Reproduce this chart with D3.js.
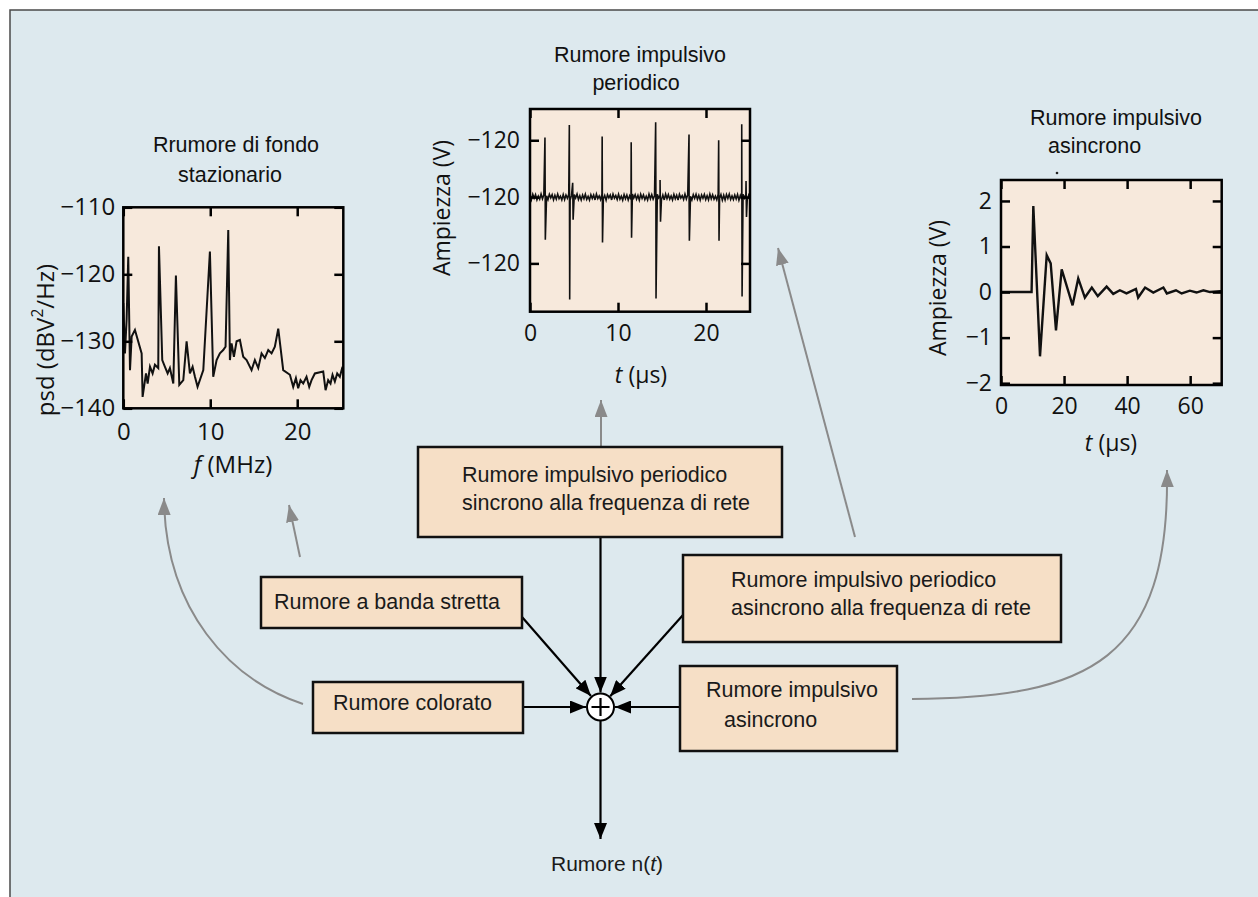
<!DOCTYPE html>
<html>
<head>
<meta charset="utf-8">
<script src="https://cdn.jsdelivr.net/npm/d3@7"></script>
<style>
  html, body { margin: 0; padding: 0; background: #ffffff; }
  svg { display: block; }
</style>
</head>
<body>
<svg id="chart" width="1258" height="897"></svg>
<script>
// ---------- Stationary background noise: power spectral density ----------
const psdFreqMHz = [0,0.19,0.38,0.57,0.77,0.96,1.34,2.11,2.22,2.61,2.80,3.07,3.37,3.64,4.02,4.10,4.48,4.79,5.10,5.36,5.75,6.05,6.44,6.90,7.28,7.66,7.97,8.24,8.54,9.20,9.96,10.34,10.73,11.11,11.49,11.76,12.07,12.26,12.45,12.72,13.03,13.41,13.79,14.18,14.75,15.13,15.52,15.90,16.28,16.67,17.05,17.43,17.82,18.39,19.16,19.54,19.85,20.11,20.38,20.69,21.07,21.38,21.65,22.03,22.99,23.26,23.56,23.83,24.06,24.33,24.60,24.90,25.21];
const psdLevel = [-124.3,-131.8,-126.8,-117.4,-134.3,-129.3,-128.3,-131.8,-138.3,-134.8,-136.3,-133.8,-134.8,-133.5,-134.0,-115.8,-132.8,-133.8,-134.8,-134.0,-136.3,-120.2,-136.5,-135.8,-130.0,-134.8,-133.8,-135.3,-136.8,-134.3,-116.6,-135.3,-132.8,-131.8,-131.3,-130.8,-113.4,-132.8,-130.3,-132.3,-130.0,-129.8,-132.3,-132.8,-134.3,-132.8,-134.0,-131.8,-132.5,-131.3,-131.8,-130.8,-128.1,-134.3,-135.0,-136.8,-135.5,-137.0,-135.8,-136.3,-135.3,-136.8,-135.8,-134.8,-134.5,-137.3,-135.8,-136.3,-135.0,-136.0,-134.8,-135.3,-133.8];
const psdXTicks = [0, 10, 20];
const psdXLabels = ["0", "10", "20"];
const psdYTicks = [-110, -120, -130, -140];
const psdYLabels = ["\u2212110", "\u2212120", "\u2212130", "\u2212140"];

// ---------- Periodic impulsive noise (time domain) ----------
// baseline jitter, sampled evenly across the 0–25 µs window
const periodicNoise = [
  0.02,-0.028,0.03,-0.012,0.026,-0.03,0.01,-0.022,0.032,-0.018,
  0.024,-0.032,0.014,-0.026,0.03,-0.008,0.026,-0.03,0.018,-0.022,
  0.032,-0.016,0.01,-0.03,0.026,-0.026,0.022,-0.012,0.03,-0.032,
  0.018,-0.022,0.026,-0.01,0.032,-0.026,0.014,-0.03,0.022,-0.018,
  0.03,-0.024,0.008,-0.032,0.026,-0.014,0.022,-0.03,0.032,-0.016,
  0.012,-0.026,0.03,-0.02,0.018,-0.032,0.026,-0.008,0.022,-0.03,
  0.032,-0.012,0.016,-0.026,0.03,-0.022,0.01,-0.032,0.026,-0.018,
  0.022,-0.03,0.014,-0.024,0.032,-0.01,0.026,-0.022,0.018,-0.032,
  0.03,-0.014,0.022,-0.026,0.01,-0.03,0.032,-0.018,0.026,-0.022,
  0.014,-0.032,0.03,-0.008,0.018,-0.026,0.022,-0.03,0.032,-0.016,
  0.026,-0.022,0.012,-0.03,0.028,-0.018,0.02,-0.032,0.03,-0.01,
  0.016,-0.026,0.032,-0.02,0.024,-0.028,0.008,-0.03,0.026,-0.014,
  0.03,-0.024,0.018,-0.032,0.022,-0.012,0.028,-0.026,0.014,-0.03,
  0.032,-0.018,0.024,-0.022,0.01,-0.028,0.03,-0.016,0.026,-0.032,
  0.02,-0.03,0.028,-0.014,0.032,-0.024,0.012,-0.026,0.022,-0.02,
  0.028,-0.032,0.016,-0.022,0.03,-0.01,0.024,-0.028,0.018,-0.026
];
const pulseTimeUs = [1.70, 4.47, 8.20, 11.50, 14.28, 18.07, 21.44, 24.06];
const pulseHigh   = [0.63, 0.76, 0.64, 0.58, 0.79, 0.66, 0.60, 0.77];
const pulseLow    = [-0.45, -1.08, -0.48, -0.43, -1.07, -0.46, -0.46, -1.05];
const echoTimeUs  = [4.85, 14.78, 24.55];
const echoHigh    = [0.15, 0.18, 0.17];
const echoLow     = [-0.24, -0.26, -0.21];
const perXTicks = [0, 10, 20];
const perXLabels = ["0", "10", "20"];
const perYTicks = [0.6, 0, -0.7];
const perYLabels = ["\u2212120", "\u2212120", "\u2212120"];

// ---------- Asynchronous impulsive noise (damped burst) ----------
const asyncTimeUs = [0,9.7,10.25,12.37,14.5,15.76,17.44,19.25,22.7,24.5,26.6,28.8,30.7,33.5,35.6,37.7,39.8,42.8,43.5,45.7,48.3,51.5,52.6,55.5,57.3,59.9,62,64.2,66.3,69.5,70];
const asyncAmpV   = [0,0,1.89,-1.41,0.81,0.63,-0.84,0.5,-0.29,0.3,-0.12,0.1,-0.09,0.12,-0.04,0.04,-0.03,0.07,-0.12,0.1,-0.01,0.1,-0.03,0.04,-0.03,0.03,-0.01,0.04,0,0.02,0.02];
const asyncXTicks = [0, 20, 40, 60];
const asyncXLabels = ["0", "20", "40", "60"];
const asyncYTicks = [2, 1, 0, -1, -2];
const asyncYLabels = ["2", "1", "0", "\u22121", "\u22122"];

// ---------- Block diagram labels ----------
const boxSyncLines   = ["Rumore impulsivo periodico", "sincrono alla frequenza di rete"];
const boxNarrowLines = ["Rumore a banda stretta"];
const boxColoredLines = ["Rumore colorato"];
const boxAsyncPerLines = ["Rumore impulsivo periodico", "asincrono alla frequenza di rete"];
const boxAsyncLines  = ["Rumore impulsivo", "asincrono"];

const PANEL_BG = "#dde9ee";
const PLOT_BG = "#f7e9dc";
const BOX_BG = "#f6dfc6";
const ARROW_GRAY = "#8a8a8a";
const AXIS_FONT = "'Open Sans', 'Noto Sans', sans-serif";
const ARIAL = "'Liberation Sans', Arial, sans-serif";

const svg = d3.select("#chart");

// Background panel
svg.append("rect").attr("x", 10).attr("y", 10).attr("width", 1260).attr("height", 900)
  .attr("fill", PANEL_BG).attr("stroke", "#4a4a4a").attr("stroke-width", 1.5);

const defs = svg.append("defs");
function arrowMarker(id, color, len, wid) {
  defs.append("marker")
    .attr("id", id)
    .attr("viewBox", `0 0 ${len} ${wid}`)
    .attr("refX", len).attr("refY", wid / 2)
    .attr("markerWidth", len).attr("markerHeight", wid)
    .attr("markerUnits", "userSpaceOnUse")
    .attr("orient", "auto")
    .append("path")
    .attr("d", `M0,0L${len},${wid / 2}L0,${wid}Z`)
    .attr("fill", color);
}
arrowMarker("headBlack", "#000", 16, 13);
arrowMarker("headGray", ARROW_GRAY, 17, 13);

// ---------- Small plot panels ----------
function plotPanel(o) {
  const g = svg.append("g");
  g.append("rect").attr("x", o.x0).attr("y", o.y0)
    .attr("width", o.x1 - o.x0).attr("height", o.y1 - o.y0).attr("fill", PLOT_BG);

  const x = d3.scaleLinear().domain(o.xDomain).range([o.x0, o.x1]);
  const y = d3.scaleLinear().domain(o.yDomain).range([o.y1, o.y0]);

  const clipId = "clip-" + o.id;
  defs.append("clipPath").attr("id", clipId).append("rect")
    .attr("x", o.x0).attr("y", o.y0).attr("width", o.x1 - o.x0).attr("height", o.y1 - o.y0);

  g.append("path")
    .datum(o.points)
    .attr("clip-path", `url(#${clipId})`)
    .attr("fill", "none")
    .attr("stroke", "#111")
    .attr("stroke-width", o.lineWidth)
    .attr("stroke-linejoin", "miter")
    .attr("d", d3.line().x(d => x(d[0])).y(d => y(d[1])));

  const styleAxis = (sel, fontSize) => {
    sel.select(".domain").remove();
    sel.selectAll(".tick line").attr("stroke", "#000").attr("stroke-width", 2.5);
    sel.selectAll("text").attr("font-family", AXIS_FONT).attr("font-size", fontSize).attr("fill", "#111");
  };
  const T = 9;
  g.append("g").attr("transform", `translate(0,${o.y1})`)
    .call(d3.axisBottom(x).tickValues(o.xTicks).tickFormat((d, i) => o.xLabels[i])
      .tickSizeInner(-T).tickSizeOuter(0).tickPadding(o.xPad))
    .call(s => styleAxis(s, o.tickFont));
  g.append("g").attr("transform", `translate(0,${o.y0})`)
    .call(d3.axisTop(x).tickValues(o.xTicks).tickFormat("").tickSizeInner(-T).tickSizeOuter(0))
    .call(s => styleAxis(s, o.tickFont));
  g.append("g").attr("transform", `translate(${o.x0},0)`)
    .call(d3.axisLeft(y).tickValues(o.yTicks).tickFormat((d, i) => o.yLabels[i])
      .tickSizeInner(-T).tickSizeOuter(0).tickPadding(o.yPad))
    .call(s => styleAxis(s, o.tickFont));
  g.append("g").attr("transform", `translate(${o.x1},0)`)
    .call(d3.axisRight(y).tickValues(o.yTicks).tickFormat("").tickSizeInner(-T).tickSizeOuter(0))
    .call(s => styleAxis(s, o.tickFont));

  g.append("rect").attr("x", o.x0).attr("y", o.y0)
    .attr("width", o.x1 - o.x0).attr("height", o.y1 - o.y0)
    .attr("fill", "none").attr("stroke", "#000").attr("stroke-width", 2.5);

  // titles
  o.title.forEach(t => {
    g.append("text").attr("x", t[1]).attr("y", t[2]).attr("text-anchor", t[3] || "middle")
      .attr("font-family", ARIAL).attr("font-size", 21.5).attr("fill", "#111").text(t[0]);
  });

  // x-axis label: italic variable followed by unit
  const xl = g.append("text").attr("x", o.xLabelPos[0]).attr("y", o.xLabelPos[1])
    .attr("text-anchor", "middle").attr("font-family", AXIS_FONT).attr("font-size", o.labelFont).attr("fill", "#111");
  xl.append("tspan").attr("font-style", "italic").text(o.xVar);
  xl.append("tspan").text(" " + o.xUnit);

  // y-axis label, rotated
  const yl = g.append("text")
    .attr("transform", `translate(${o.yLabelPos[0]},${o.yLabelPos[1]}) rotate(-90)`)
    .attr("text-anchor", "middle").attr("font-family", AXIS_FONT).attr("font-size", o.labelFont).attr("fill", "#111");
  o.yLabelParts.forEach(p => {
    const ts = yl.append("tspan").text(p[0]);
    if (p[1] === "sup") ts.attr("baseline-shift", "super").attr("font-size", o.labelFont * 0.65);
  });
  return g;
}

// Periodic impulsive trace: baseline jitter plus impulses, ordered in time
const periodicPoints = periodicNoise.map((v, i) => [i * 25 / (periodicNoise.length - 1), v]);
pulseTimeUs.forEach((t, i) => {
  periodicPoints.push([t, pulseHigh[i]], [t + 0.04, pulseLow[i]]);
});
echoTimeUs.forEach((t, i) => {
  periodicPoints.push([t, echoHigh[i]], [t + 0.05, echoLow[i]]);
});
periodicPoints.sort((a, b) => a[0] - b[0]);

plotPanel({
  id: "psd",
  x0: 123.3, x1: 343.3, y0: 207.3, y1: 408.3,
  xDomain: [0, 25.3], yDomain: [-140, -110],
  points: psdFreqMHz.map((f, i) => [f, psdLevel[i]]),
  lineWidth: 2,
  xTicks: psdXTicks, xLabels: psdXLabels, yTicks: psdYTicks, yLabels: psdYLabels,
  xPad: 15, yPad: 8, tickFont: 24, labelFont: 24,
  title: [["Rrumore di fondo", 236, 152], ["stazionario", 230, 182]],
  xVar: "f", xUnit: "(MHz)", xLabelPos: [233, 473],
  yLabelPos: [54, 340], yLabelParts: [["psd (dBV"], ["2", "sup"], ["/Hz)"]]
});

plotPanel({
  id: "per",
  x0: 530, x1: 750, y0: 109, y1: 311.7,
  xDomain: [0, 25], yDomain: [-1.21, 0.93],
  points: periodicPoints,
  lineWidth: 1.6,
  xTicks: perXTicks, xLabels: perXLabels, yTicks: perYTicks, yLabels: perYLabels,
  xPad: 13, yPad: 10, tickFont: 23, labelFont: 23,
  title: [["Rumore impulsivo", 640, 62], ["periodico", 636, 90]],
  xVar: "t", xUnit: "(\u00b5s)", xLabelPos: [641, 383],
  yLabelPos: [450, 208], yLabelParts: [["Ampiezza (V)"]]
});

plotPanel({
  id: "async",
  x0: 1001, x1: 1221.7, y0: 180, y1: 385,
  xDomain: [0, 70], yDomain: [-2.04, 2.46],
  points: asyncTimeUs.map((t, i) => [t, asyncAmpV[i]]),
  lineWidth: 2.4,
  xTicks: asyncXTicks, xLabels: asyncXLabels, yTicks: asyncYTicks, yLabels: asyncYLabels,
  xPad: 13, yPad: 9, tickFont: 23, labelFont: 23,
  title: [["Rumore impulsivo", 1030, 125, "start"], ["asincrono", 1048, 153, "start"]],
  xVar: "t", xUnit: "(\u00b5s)", xLabelPos: [1111, 451],
  yLabelPos: [946, 288], yLabelParts: [["Ampiezza (V)"]]
});
svg.append("circle").attr("cx", 1057).attr("cy", 173).attr("r", 1.3).attr("fill", "#222");

// ---------- Gray connectors from sources to their example plots ----------
const grayPaths = [
  "M601,447 L601,400",
  "M855,537 L778,248",
  "M300,557 L289,505",
  "M303,704 C230,680 165,610 164,498",
  "M912,699 C1090,698 1170,660 1167,470"
];
svg.append("g").selectAll("path").data(grayPaths).join("path")
  .attr("d", d => d).attr("fill", "none")
  .attr("stroke", ARROW_GRAY).attr("stroke-width", 2)
  .attr("marker-end", "url(#headGray)");

// ---------- Source boxes ----------
const boxes = [
  { x: 418, y: 447, w: 364, h: 90, lines: boxSyncLines, pos: [[462, 482], [462, 510]] },
  { x: 261, y: 577, w: 261, h: 51, lines: boxNarrowLines, pos: [[274, 609]] },
  { x: 313, y: 682, w: 210, h: 51, lines: boxColoredLines, pos: [[333, 710]] },
  { x: 683, y: 555, w: 378, h: 87, lines: boxAsyncPerLines, pos: [[731, 587], [731, 615]] },
  { x: 680, y: 666, w: 217, h: 85, lines: boxAsyncLines, pos: [[706, 697], [724, 727]] }
];

// ---------- Summing node and black arrows ----------
const node = { x: 600.5, y: 707, r: 13.5 };
function toNode(x, y) {
  const dx = node.x - x, dy = node.y - y, L = Math.hypot(dx, dy);
  const k = (L - node.r - 1) / L;
  return `M${x},${y} L${x + dx * k},${y + dy * k}`;
}
const blackArrows = [
  toNode(600.5, 537),
  toNode(522, 617),
  toNode(523, 707),
  toNode(683, 615),
  toNode(680, 707),
  `M${node.x},${node.y + node.r} L${node.x},839`
];
svg.append("g").selectAll("path").data(blackArrows).join("path")
  .attr("d", d => d).attr("fill", "none")
  .attr("stroke", "#000").attr("stroke-width", 2.2)
  .attr("marker-end", "url(#headBlack)");

const bg = svg.append("g");
boxes.forEach(b => {
  bg.append("rect").attr("x", b.x).attr("y", b.y).attr("width", b.w).attr("height", b.h)
    .attr("fill", BOX_BG).attr("stroke", "#111").attr("stroke-width", 2.5);
  b.lines.forEach((ln, i) => {
    bg.append("text").attr("x", b.pos[i][0]).attr("y", b.pos[i][1])
      .attr("font-family", ARIAL).attr("font-size", 21.5).attr("fill", "#1a1a1a").text(ln);
  });
});

svg.append("circle").attr("cx", node.x).attr("cy", node.y).attr("r", node.r)
  .attr("fill", "#fff").attr("stroke", "#000").attr("stroke-width", 2);
svg.append("path")
  .attr("d", `M${node.x - 9},${node.y} H${node.x + 9} M${node.x},${node.y - 9} V${node.y + 9}`)
  .attr("stroke", "#000").attr("stroke-width", 2.2);

// Output label
const out = svg.append("text").attr("x", 607).attr("y", 871).attr("text-anchor", "middle")
  .attr("font-family", ARIAL).attr("font-size", 21).attr("fill", "#1a1a1a");
out.append("tspan").text("Rumore n(");
out.append("tspan").attr("font-style", "italic").text("t");
out.append("tspan").text(")");
</script>
</body>
</html>
